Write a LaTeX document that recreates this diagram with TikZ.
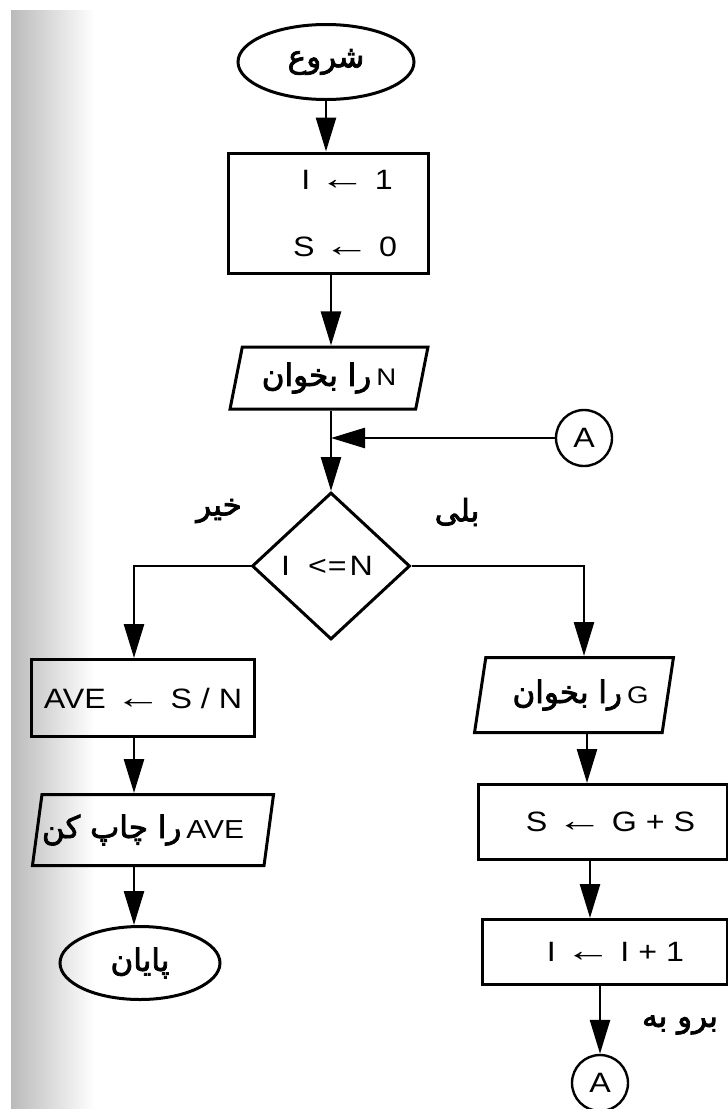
\documentclass[tikz,border=0pt]{standalone}
\usepackage{fontspec}
\setmainfont{Liberation Sans}[FakeStretch=1.15]
\newfontfamily\fa{DejaVu Sans}[Script=Arabic,FakeBold=2.5]
\TeXXeTstate=1
\usetikzlibrary{shapes.geometric,arrows.meta}
\newcommand\lar{\scalebox{1.45}[1.15]{←}}
\tikzset{
  line/.style={line width=2.7pt},
  arr/.style={line width=2.7pt,-{Triangle[length=34pt,width=20pt]}},
  box/.style={draw,rectangle,line width=3pt,inner sep=0pt},
  term/.style={draw,ellipse,line width=3pt,inner sep=0pt},
  io/.style={draw,trapezium,trapezium left angle=73,trapezium right angle=107,
    trapezium stretches=true,line width=3pt,inner sep=0pt},
  dec/.style={draw,diamond,line width=3pt,inner sep=0pt},
  conn/.style={draw,circle,line width=2.4pt,inner sep=0pt,minimum size=56pt},
  lat/.style={font=\fontsize{28}{30}\selectfont},
  per/.style={font=\fa\fontsize{31}{34}\selectfont},
}
\begin{document}
\begin{tikzpicture}[x=1pt,y=-1pt]
\useasboundingbox (0,0) rectangle (728,1109);
\fill[white] (0,0) rectangle (728,1109);
\shade[left color=black!27,right color=white] (11,10) rectangle (95,1109);

% main column
\node[term,minimum width=176pt,minimum height=75pt,per] (start) at (326,62) {\beginR شروع\endR};
\node[box,minimum width=200pt,minimum height=120pt,align=center,
  font=\fontsize{28}{67}\selectfont] (init) at (328,213)
  {\hspace*{38pt}I \lar\ 1\\\hspace*{34pt}S \lar\ 0};
\node[io,minimum width=198pt,minimum height=62pt] (readN) at (329,378)
  {{\fa\fontsize{31}{34}\selectfont\beginR را بخوان\endR}\hspace{5pt}{\fontsize{24}{26}\selectfont N}};
\coordinate (J) at (331,438);
\node[conn,font=\fontsize{28}{30}\selectfont] (A1) at (584,438) {A};
\node[dec,minimum width=158pt,minimum height=147pt,lat] (dec) at (331,566)
  {I\hspace{18pt}<\hspace{1pt}=\hspace{3pt}N\hspace*{8pt}};

% labels
\node[per] (no) at (219,511) {\beginR خیر\endR};
\node[per] (yes) at (457,512) {\beginR بلی\endR};

% left column
\coordinate (L) at (134,566);
\node[box,minimum width=223pt,minimum height=77pt,lat] (ave) at (143,698)
  {AVE \lar\ S / N};
\node[io,minimum width=237pt,minimum height=71pt] (pr) at (153,830)
  {{\fa\fontsize{31}{34}\selectfont\beginR را چاپ کن\endR}\hspace{5pt}{\fontsize{26}{28}\selectfont AVE}\hspace*{20pt}};
\node[term,minimum width=160pt,minimum height=73pt,per] (end) at (140,963) {\beginR پایان\endR};

% right column
\coordinate (R) at (584,563);
\coordinate (R2) at (587,0);
\coordinate (R3) at (590,0);
\coordinate (R4) at (600,0);
\node[io,minimum width=199pt,minimum height=75pt] (g) at (574,695)
  {\hspace*{13pt}{\fa\fontsize{31}{34}\selectfont\beginR را بخوان\endR}\hspace{5pt}{\fontsize{24}{26}\selectfont G}};
\node[box,minimum width=249pt,minimum height=75pt,lat] (s) at (603,822)
  {\hspace*{15pt}S \lar\ G + S};
\node[box,minimum width=245pt,minimum height=65pt,lat] (inc) at (605,952)
  {\hspace*{21pt}I \lar\ I + 1};
\node[conn,font=\fontsize{28}{30}\selectfont] (A2) at (600,1083) {A};
\node[per] (goto) at (680,1025) {\beginR برو به\endR};

% connectors
\draw[arr] (start.south) -- (init.north -| start.south);
\draw[arr] (init.south -| J) -- (readN.north -| J);
\draw[line] (readN.south -| J) -- (J);
\draw[arr] (A1.west) -- (J);
\draw[arr] (J) -- (dec.north);
\draw[arr] (dec.west) -- (L) -- (L |- ave.north);
\draw[arr] (L |- ave.south) -- (L |- pr.north);
\draw[arr] (L |- pr.south) -- (L |- end.north);
\draw[arr] (dec.east) -- (R |- dec.east) -- (R |- g.north);
\draw[arr] (R2 |- g.south) -- (R2 |- s.north);
\draw[arr] (R3 |- s.south) -- (R3 |- inc.north);
\draw[arr] (R4 |- inc.south) -- (A2.north);
\end{tikzpicture}
\end{document}
